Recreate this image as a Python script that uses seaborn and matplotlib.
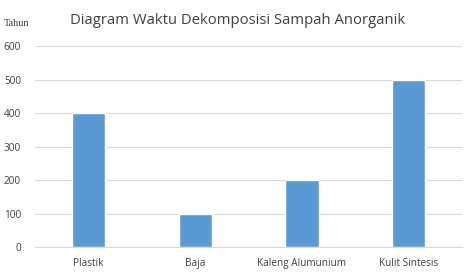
import matplotlib
matplotlib.use("Agg")
import matplotlib.pyplot as plt
import seaborn as sns
import pandas as pd

categories = ["Plastik", "Baja", "Kaleng Alumunium", "Kulit Sintesis"]
values = [400, 100, 200, 500]
yticks = [0, 100, 200, 300, 400, 500, 600]

sns.set_style("white")
plt.rcParams['font.family'] = ['Open Sans', 'DejaVu Sans']

df = pd.DataFrame({"kategori": categories, "tahun": values})

fig = plt.figure(figsize=(4.74, 2.74), dpi=100)
ax = fig.add_axes([0.074, 0.0985, 0.901, 0.7335])
sns.barplot(data=df, x="kategori", y="tahun", color="#5B9BD5", saturation=1,
            width=0.31, ax=ax, zorder=3)
ax.set_ylim(0, 600)
ax.set_xlim(-0.5, 3.5)
ax.set_yticks(yticks)
ax.set_yticklabels([str(v) for v in yticks])
ax.yaxis.grid(True, color="#D9D9D9", linewidth=0.8, zorder=0)
ax.set_axisbelow(True)
for s in ["top", "right", "left"]:
    ax.spines[s].set_visible(False)
ax.spines["bottom"].set_color("#D9D9D9")
ax.spines["bottom"].set_linewidth(0.8)
ax.tick_params(axis="both", length=0, labelsize=7.2, colors="#404040", pad=8)
ax.tick_params(axis="y", pad=10)
ax.set_xlabel("")
ax.set_ylabel("")
fig.text(0.502, 0.925, "Diagram Waktu Dekomposisi Sampah Anorganik", ha="center",
         va="center", fontsize=10.7, color="#404040")
fig.text(0.008, 0.915, "Tahun", ha="left", va="center", fontsize=7.5,
         family=["Liberation Serif"], color="#404040")
fig.savefig("out.png", dpi=100)
